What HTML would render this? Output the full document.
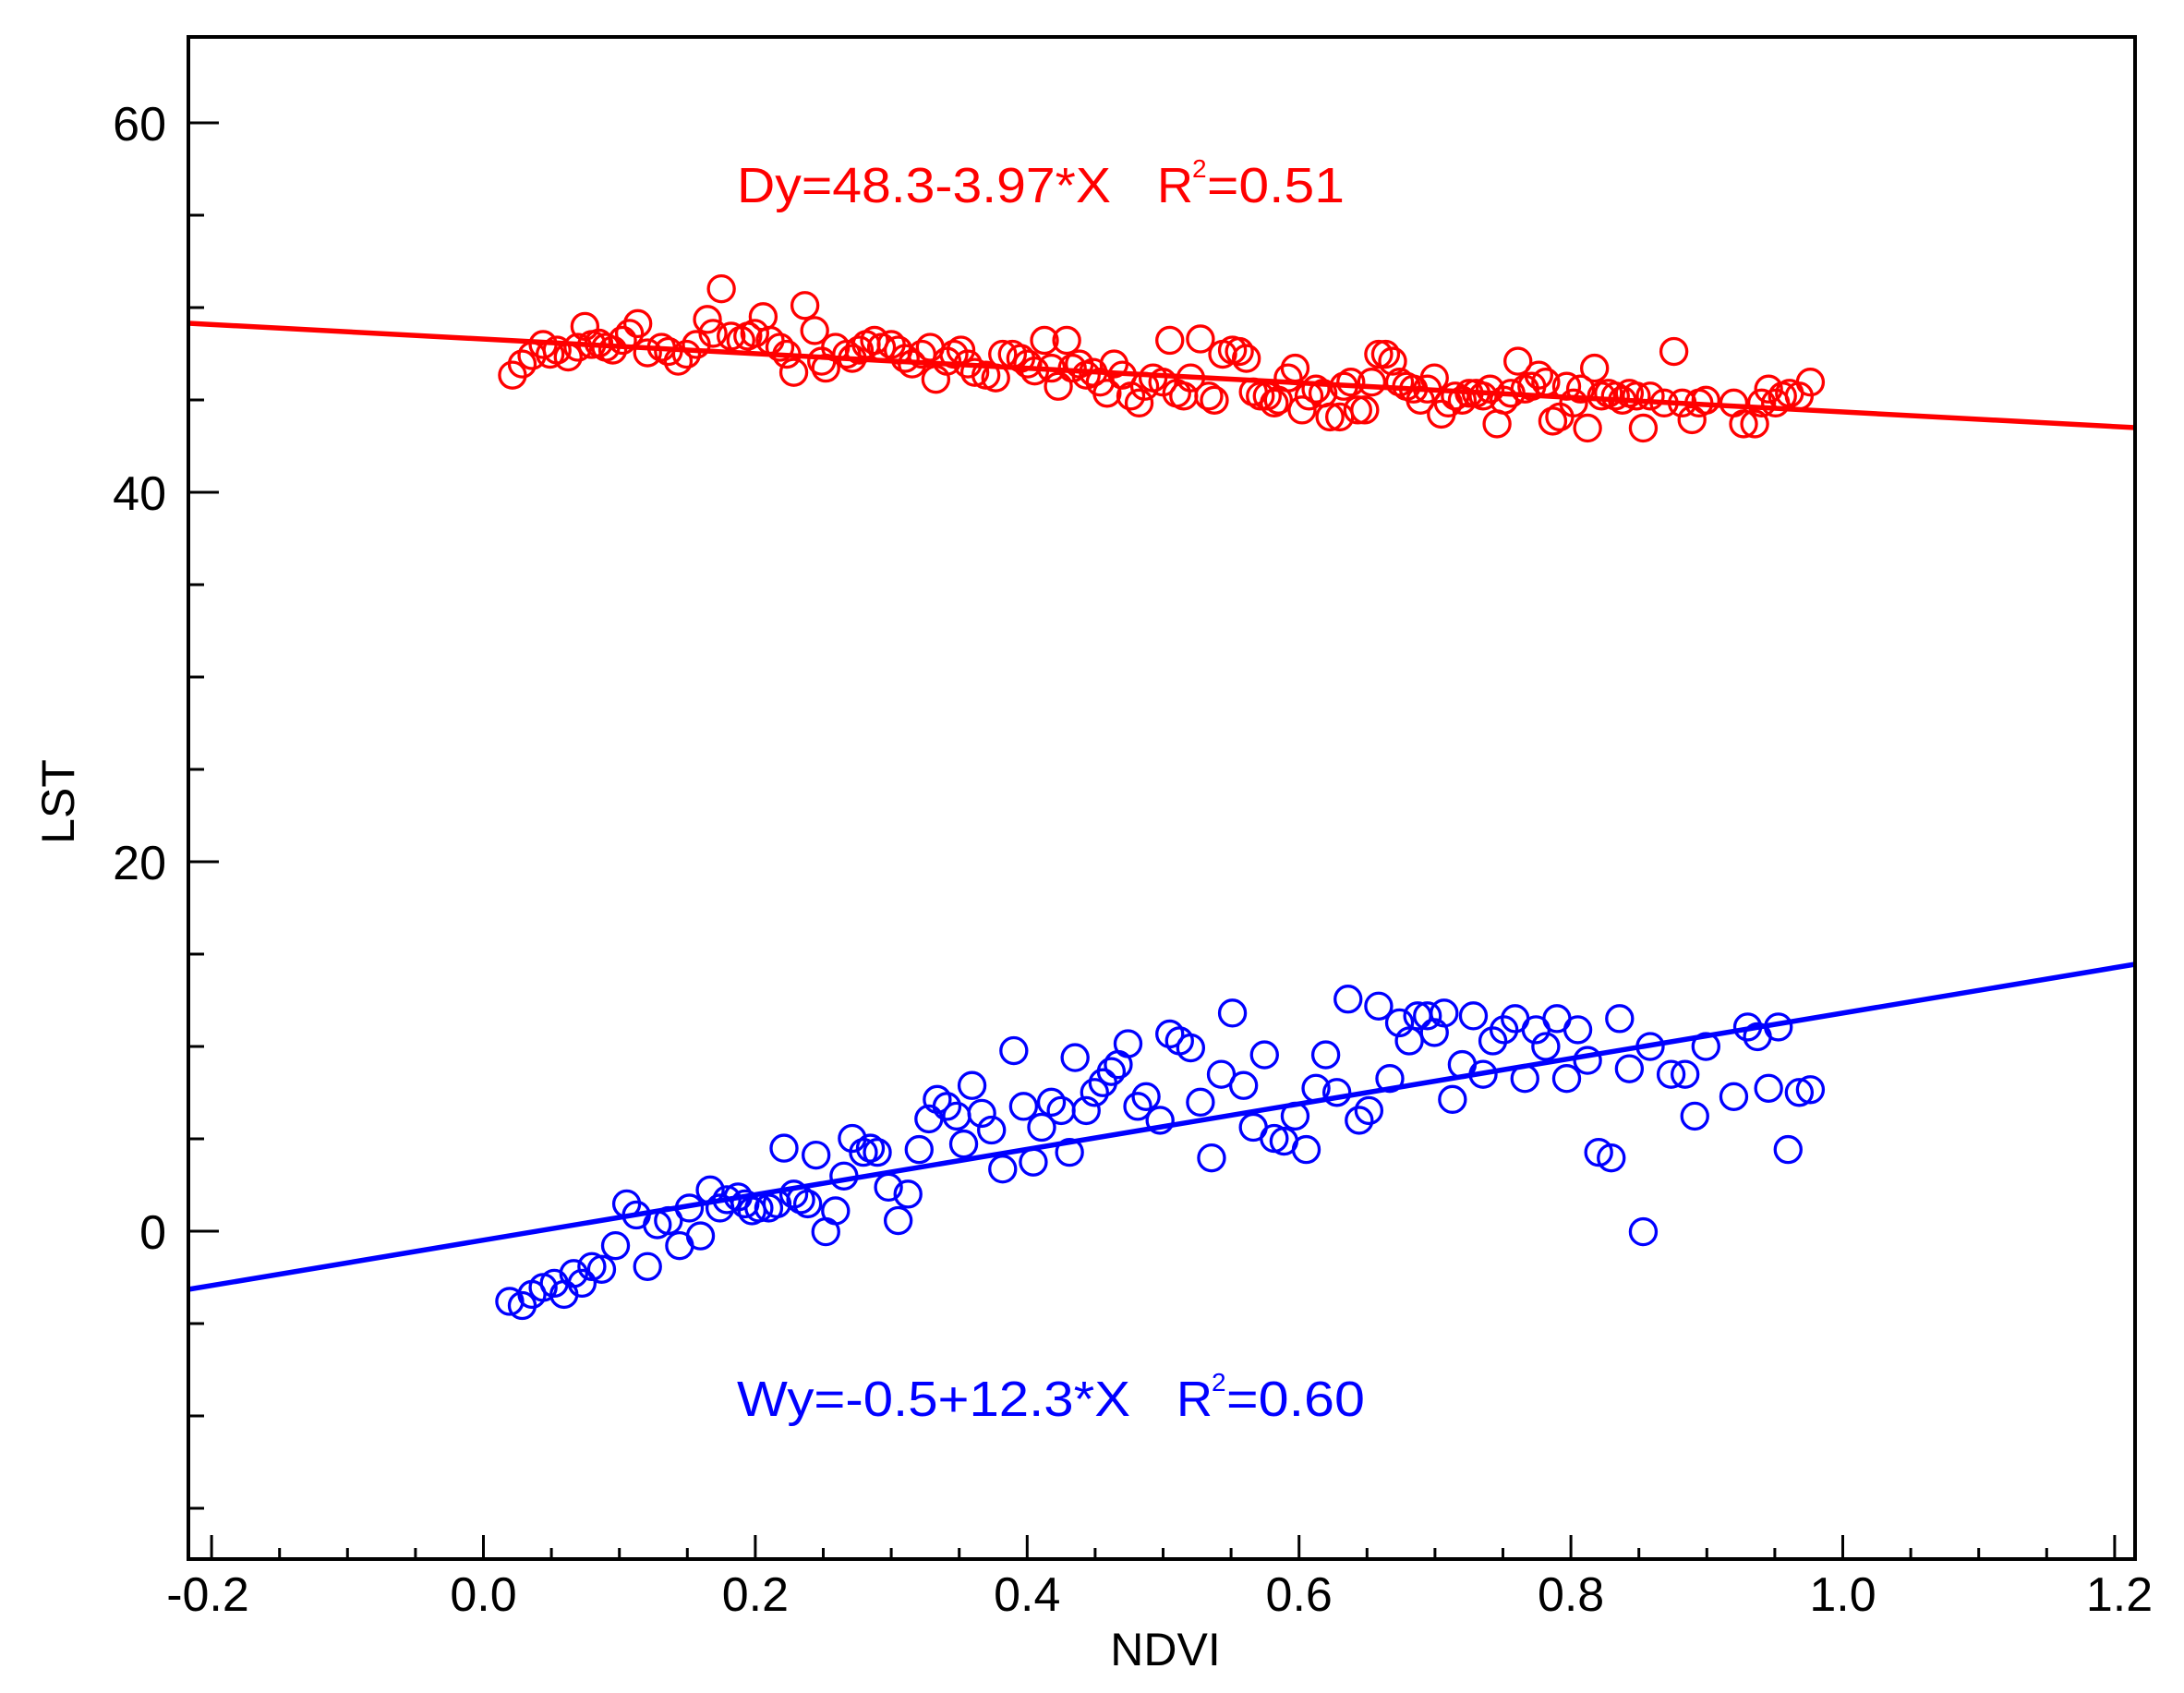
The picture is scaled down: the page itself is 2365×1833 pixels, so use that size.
<!DOCTYPE html>
<html><head><meta charset="utf-8"><style>
html,body{margin:0;padding:0;background:#fff;}
svg{display:block;}
text{font-family:"Liberation Sans",sans-serif;}
</style></head><body>
<svg width="2365" height="1833" viewBox="0 0 2365 1833" xmlns="http://www.w3.org/2000/svg">
<rect width="2365" height="1833" fill="#fff"/>
<line x1="204" y1="350" x2="2312" y2="463" stroke="#ff0000" stroke-width="5.5"/>
<line x1="204" y1="1396" x2="2312" y2="1044" stroke="#0000ff" stroke-width="5.5"/>
<g transform="translate(0,-1) scale(1.508)" fill="none" stroke-width="2.2">
<g stroke="#ff0000">
<circle cx="368" cy="270" r="9.3"/><circle cx="375" cy="262" r="9.3"/><circle cx="382" cy="256" r="9.3"/><circle cx="390" cy="248" r="9.3"/><circle cx="395" cy="255" r="9.3"/><circle cx="400" cy="252" r="9.3"/><circle cx="408" cy="257" r="9.3"/><circle cx="415" cy="250" r="9.3"/><circle cx="420" cy="235" r="9.3"/><circle cx="425" cy="248" r="9.3"/><circle cx="430" cy="247" r="9.3"/><circle cx="435" cy="250" r="9.3"/><circle cx="440" cy="252" r="9.3"/><circle cx="447" cy="245" r="9.3"/><circle cx="452" cy="240" r="9.3"/><circle cx="458" cy="233" r="9.3"/><circle cx="465" cy="254" r="9.3"/><circle cx="475" cy="250" r="9.3"/><circle cx="480" cy="253" r="9.3"/><circle cx="487" cy="260" r="9.3"/><circle cx="493" cy="255" r="9.3"/><circle cx="500" cy="248" r="9.3"/><circle cx="508" cy="230" r="9.3"/><circle cx="512" cy="240" r="9.3"/><circle cx="518" cy="208" r="9.3"/><circle cx="525" cy="242" r="9.3"/><circle cx="532" cy="245" r="9.3"/><circle cx="537" cy="242" r="9.3"/><circle cx="542" cy="240" r="9.3"/><circle cx="548" cy="228" r="9.3"/><circle cx="553" cy="245" r="9.3"/><circle cx="560" cy="250" r="9.3"/><circle cx="565" cy="255" r="9.3"/><circle cx="570" cy="268" r="9.3"/><circle cx="578" cy="220" r="9.3"/><circle cx="585" cy="238" r="9.3"/><circle cx="590" cy="260" r="9.3"/><circle cx="593" cy="265" r="9.3"/><circle cx="600" cy="250" r="9.3"/><circle cx="608" cy="255" r="9.3"/><circle cx="612" cy="258" r="9.3"/><circle cx="617" cy="252" r="9.3"/><circle cx="622" cy="248" r="9.3"/><circle cx="628" cy="245" r="9.3"/><circle cx="633" cy="250" r="9.3"/><circle cx="640" cy="248" r="9.3"/><circle cx="645" cy="252" r="9.3"/><circle cx="650" cy="258" r="9.3"/><circle cx="655" cy="262" r="9.3"/><circle cx="662" cy="255" r="9.3"/><circle cx="668" cy="250" r="9.3"/><circle cx="672" cy="273" r="9.3"/><circle cx="680" cy="260" r="9.3"/><circle cx="685" cy="255" r="9.3"/><circle cx="690" cy="252" r="9.3"/><circle cx="695" cy="262" r="9.3"/><circle cx="700" cy="268" r="9.3"/><circle cx="708" cy="270" r="9.3"/><circle cx="715" cy="272" r="9.3"/><circle cx="720" cy="255" r="9.3"/><circle cx="727" cy="255" r="9.3"/><circle cx="733" cy="258" r="9.3"/><circle cx="738" cy="262" r="9.3"/><circle cx="743" cy="267" r="9.3"/><circle cx="750" cy="245" r="9.3"/><circle cx="755" cy="265" r="9.3"/><circle cx="760" cy="278" r="9.3"/><circle cx="766" cy="245" r="9.3"/><circle cx="770" cy="265" r="9.3"/><circle cx="775" cy="262" r="9.3"/><circle cx="780" cy="270" r="9.3"/><circle cx="785" cy="268" r="9.3"/><circle cx="790" cy="275" r="9.3"/><circle cx="795" cy="283" r="9.3"/><circle cx="800" cy="262" r="9.3"/><circle cx="806" cy="270" r="9.3"/><circle cx="812" cy="285" r="9.3"/><circle cx="818" cy="290" r="9.3"/><circle cx="822" cy="278" r="9.3"/><circle cx="828" cy="272" r="9.3"/><circle cx="835" cy="275" r="9.3"/><circle cx="840" cy="245" r="9.3"/><circle cx="845" cy="283" r="9.3"/><circle cx="850" cy="285" r="9.3"/><circle cx="855" cy="272" r="9.3"/><circle cx="862" cy="244" r="9.3"/><circle cx="868" cy="285" r="9.3"/><circle cx="872" cy="288" r="9.3"/><circle cx="878" cy="255" r="9.3"/><circle cx="885" cy="252" r="9.3"/><circle cx="890" cy="253" r="9.3"/><circle cx="895" cy="258" r="9.3"/><circle cx="900" cy="282" r="9.3"/><circle cx="905" cy="285" r="9.3"/><circle cx="910" cy="285" r="9.3"/><circle cx="915" cy="290" r="9.3"/><circle cx="918" cy="288" r="9.3"/><circle cx="925" cy="272" r="9.3"/><circle cx="930" cy="265" r="9.3"/><circle cx="935" cy="295" r="9.3"/><circle cx="940" cy="285" r="9.3"/><circle cx="945" cy="280" r="9.3"/><circle cx="950" cy="283" r="9.3"/><circle cx="955" cy="300" r="9.3"/><circle cx="962" cy="300" r="9.3"/><circle cx="965" cy="278" r="9.3"/><circle cx="970" cy="275" r="9.3"/><circle cx="975" cy="295" r="9.3"/><circle cx="980" cy="295" r="9.3"/><circle cx="985" cy="275" r="9.3"/><circle cx="990" cy="255" r="9.3"/><circle cx="995" cy="255" r="9.3"/><circle cx="1000" cy="260" r="9.3"/><circle cx="1005" cy="275" r="9.3"/><circle cx="1010" cy="278" r="9.3"/><circle cx="1015" cy="280" r="9.3"/><circle cx="1020" cy="288" r="9.3"/><circle cx="1025" cy="280" r="9.3"/><circle cx="1030" cy="272" r="9.3"/><circle cx="1035" cy="298" r="9.3"/><circle cx="1040" cy="290" r="9.3"/><circle cx="1045" cy="285" r="9.3"/><circle cx="1050" cy="288" r="9.3"/><circle cx="1055" cy="283" r="9.3"/><circle cx="1060" cy="283" r="9.3"/><circle cx="1065" cy="285" r="9.3"/><circle cx="1070" cy="280" r="9.3"/><circle cx="1075" cy="305" r="9.3"/><circle cx="1080" cy="288" r="9.3"/><circle cx="1085" cy="283" r="9.3"/><circle cx="1090" cy="260" r="9.3"/><circle cx="1095" cy="280" r="9.3"/><circle cx="1100" cy="278" r="9.3"/><circle cx="1105" cy="270" r="9.3"/><circle cx="1110" cy="275" r="9.3"/><circle cx="1115" cy="303" r="9.3"/><circle cx="1120" cy="300" r="9.3"/><circle cx="1125" cy="278" r="9.3"/><circle cx="1130" cy="290" r="9.3"/><circle cx="1135" cy="280" r="9.3"/><circle cx="1140" cy="308" r="9.3"/><circle cx="1145" cy="265" r="9.3"/><circle cx="1150" cy="285" r="9.3"/><circle cx="1155" cy="283" r="9.3"/><circle cx="1160" cy="285" r="9.3"/><circle cx="1165" cy="288" r="9.3"/><circle cx="1170" cy="283" r="9.3"/><circle cx="1175" cy="285" r="9.3"/><circle cx="1180" cy="308" r="9.3"/><circle cx="1185" cy="285" r="9.3"/><circle cx="1195" cy="290" r="9.3"/><circle cx="1202" cy="253" r="9.3"/><circle cx="1208" cy="290" r="9.3"/><circle cx="1215" cy="302" r="9.3"/><circle cx="1220" cy="290" r="9.3"/><circle cx="1225" cy="288" r="9.3"/><circle cx="1245" cy="290" r="9.3"/><circle cx="1252" cy="305" r="9.3"/><circle cx="1260" cy="305" r="9.3"/><circle cx="1265" cy="290" r="9.3"/><circle cx="1270" cy="280" r="9.3"/><circle cx="1275" cy="290" r="9.3"/><circle cx="1280" cy="285" r="9.3"/><circle cx="1285" cy="283" r="9.3"/><circle cx="1292" cy="285" r="9.3"/><circle cx="1300" cy="275" r="9.3"/>
</g>
<g stroke="#0000ff">
<circle cx="366" cy="935" r="9.3"/><circle cx="375" cy="938" r="9.3"/><circle cx="382" cy="930" r="9.3"/><circle cx="390" cy="925" r="9.3"/><circle cx="398" cy="922" r="9.3"/><circle cx="405" cy="930" r="9.3"/><circle cx="412" cy="915" r="9.3"/><circle cx="418" cy="922" r="9.3"/><circle cx="425" cy="910" r="9.3"/><circle cx="432" cy="912" r="9.3"/><circle cx="442" cy="895" r="9.3"/><circle cx="450" cy="865" r="9.3"/><circle cx="457" cy="873" r="9.3"/><circle cx="465" cy="910" r="9.3"/><circle cx="472" cy="880" r="9.3"/><circle cx="480" cy="877" r="9.3"/><circle cx="488" cy="895" r="9.3"/><circle cx="495" cy="868" r="9.3"/><circle cx="503" cy="888" r="9.3"/><circle cx="510" cy="855" r="9.3"/><circle cx="517" cy="868" r="9.3"/><circle cx="522" cy="862" r="9.3"/><circle cx="530" cy="860" r="9.3"/><circle cx="535" cy="865" r="9.3"/><circle cx="540" cy="870" r="9.3"/><circle cx="545" cy="868" r="9.3"/><circle cx="552" cy="868" r="9.3"/><circle cx="558" cy="865" r="9.3"/><circle cx="563" cy="825" r="9.3"/><circle cx="570" cy="858" r="9.3"/><circle cx="575" cy="862" r="9.3"/><circle cx="580" cy="865" r="9.3"/><circle cx="586" cy="830" r="9.3"/><circle cx="593" cy="885" r="9.3"/><circle cx="600" cy="870" r="9.3"/><circle cx="606" cy="845" r="9.3"/><circle cx="612" cy="818" r="9.3"/><circle cx="620" cy="828" r="9.3"/><circle cx="625" cy="825" r="9.3"/><circle cx="630" cy="828" r="9.3"/><circle cx="638" cy="853" r="9.3"/><circle cx="645" cy="877" r="9.3"/><circle cx="652" cy="858" r="9.3"/><circle cx="660" cy="826" r="9.3"/><circle cx="667" cy="804" r="9.3"/><circle cx="673" cy="790" r="9.3"/><circle cx="680" cy="795" r="9.3"/><circle cx="687" cy="802" r="9.3"/><circle cx="692" cy="822" r="9.3"/><circle cx="698" cy="780" r="9.3"/><circle cx="705" cy="800" r="9.3"/><circle cx="712" cy="812" r="9.3"/><circle cx="720" cy="840" r="9.3"/><circle cx="728" cy="755" r="9.3"/><circle cx="735" cy="795" r="9.3"/><circle cx="742" cy="835" r="9.3"/><circle cx="748" cy="810" r="9.3"/><circle cx="755" cy="792" r="9.3"/><circle cx="762" cy="798" r="9.3"/><circle cx="768" cy="828" r="9.3"/><circle cx="772" cy="760" r="9.3"/><circle cx="780" cy="798" r="9.3"/><circle cx="786" cy="785" r="9.3"/><circle cx="792" cy="778" r="9.3"/><circle cx="798" cy="770" r="9.3"/><circle cx="803" cy="765" r="9.3"/><circle cx="810" cy="750" r="9.3"/><circle cx="817" cy="795" r="9.3"/><circle cx="823" cy="788" r="9.3"/><circle cx="833" cy="805" r="9.3"/><circle cx="840" cy="743" r="9.3"/><circle cx="847" cy="748" r="9.3"/><circle cx="855" cy="753" r="9.3"/><circle cx="862" cy="792" r="9.3"/><circle cx="870" cy="832" r="9.3"/><circle cx="877" cy="772" r="9.3"/><circle cx="885" cy="728" r="9.3"/><circle cx="893" cy="780" r="9.3"/><circle cx="900" cy="810" r="9.3"/><circle cx="908" cy="758" r="9.3"/><circle cx="915" cy="818" r="9.3"/><circle cx="922" cy="820" r="9.3"/><circle cx="930" cy="802" r="9.3"/><circle cx="938" cy="826" r="9.3"/><circle cx="945" cy="782" r="9.3"/><circle cx="952" cy="758" r="9.3"/><circle cx="960" cy="785" r="9.3"/><circle cx="968" cy="718" r="9.3"/><circle cx="976" cy="805" r="9.3"/><circle cx="983" cy="798" r="9.3"/><circle cx="990" cy="723" r="9.3"/><circle cx="998" cy="775" r="9.3"/><circle cx="1005" cy="735" r="9.3"/><circle cx="1012" cy="748" r="9.3"/><circle cx="1018" cy="730" r="9.3"/><circle cx="1025" cy="730" r="9.3"/><circle cx="1030" cy="742" r="9.3"/><circle cx="1037" cy="728" r="9.3"/><circle cx="1043" cy="790" r="9.3"/><circle cx="1050" cy="765" r="9.3"/><circle cx="1058" cy="730" r="9.3"/><circle cx="1065" cy="772" r="9.3"/><circle cx="1072" cy="748" r="9.3"/><circle cx="1080" cy="740" r="9.3"/><circle cx="1088" cy="732" r="9.3"/><circle cx="1095" cy="775" r="9.3"/><circle cx="1103" cy="740" r="9.3"/><circle cx="1110" cy="752" r="9.3"/><circle cx="1118" cy="732" r="9.3"/><circle cx="1125" cy="775" r="9.3"/><circle cx="1133" cy="740" r="9.3"/><circle cx="1140" cy="762" r="9.3"/><circle cx="1148" cy="828" r="9.3"/><circle cx="1157" cy="832" r="9.3"/><circle cx="1163" cy="732" r="9.3"/><circle cx="1170" cy="768" r="9.3"/><circle cx="1180" cy="885" r="9.3"/><circle cx="1185" cy="752" r="9.3"/><circle cx="1200" cy="772" r="9.3"/><circle cx="1210" cy="772" r="9.3"/><circle cx="1217" cy="802" r="9.3"/><circle cx="1225" cy="752" r="9.3"/><circle cx="1245" cy="788" r="9.3"/><circle cx="1255" cy="738" r="9.3"/><circle cx="1262" cy="745" r="9.3"/><circle cx="1270" cy="782" r="9.3"/><circle cx="1277" cy="738" r="9.3"/><circle cx="1284" cy="826" r="9.3"/><circle cx="1292" cy="785" r="9.3"/><circle cx="1300" cy="783" r="9.3"/>
</g>
</g>
<rect x="204" y="40" width="2108" height="1648" fill="none" stroke="#000" stroke-width="4"/>
<g stroke="#000" stroke-width="3">
<line x1="204" y1="133" x2="237" y2="133"/><line x1="204" y1="233" x2="221" y2="233"/><line x1="204" y1="333" x2="221" y2="333"/><line x1="204" y1="433" x2="221" y2="433"/>
<line x1="204" y1="533" x2="237" y2="533"/><line x1="204" y1="633" x2="221" y2="633"/><line x1="204" y1="733" x2="221" y2="733"/><line x1="204" y1="833" x2="221" y2="833"/>
<line x1="204" y1="933" x2="237" y2="933"/><line x1="204" y1="1033" x2="221" y2="1033"/><line x1="204" y1="1133" x2="221" y2="1133"/><line x1="204" y1="1233" x2="221" y2="1233"/>
<line x1="204" y1="1333" x2="237" y2="1333"/><line x1="204" y1="1433" x2="221" y2="1433"/><line x1="204" y1="1533" x2="221" y2="1533"/><line x1="204" y1="1633" x2="221" y2="1633"/>
</g>
<g stroke="#000" stroke-width="3">
<line x1="229.1" y1="1688" x2="229.1" y2="1662"/><line x1="302.7" y1="1688" x2="302.7" y2="1676"/><line x1="376.3" y1="1688" x2="376.3" y2="1676"/><line x1="449.9" y1="1688" x2="449.9" y2="1676"/>
<line x1="523.5" y1="1688" x2="523.5" y2="1662"/><line x1="597.1" y1="1688" x2="597.1" y2="1676"/><line x1="670.7" y1="1688" x2="670.7" y2="1676"/><line x1="744.3" y1="1688" x2="744.3" y2="1676"/>
<line x1="817.9" y1="1688" x2="817.9" y2="1662"/><line x1="891.5" y1="1688" x2="891.5" y2="1676"/><line x1="965.1" y1="1688" x2="965.1" y2="1676"/><line x1="1038.7" y1="1688" x2="1038.7" y2="1676"/>
<line x1="1112.3" y1="1688" x2="1112.3" y2="1662"/><line x1="1185.9" y1="1688" x2="1185.9" y2="1676"/><line x1="1259.5" y1="1688" x2="1259.5" y2="1676"/><line x1="1333.1" y1="1688" x2="1333.1" y2="1676"/>
<line x1="1406.7" y1="1688" x2="1406.7" y2="1662"/><line x1="1480.3" y1="1688" x2="1480.3" y2="1676"/><line x1="1553.9" y1="1688" x2="1553.9" y2="1676"/><line x1="1627.5" y1="1688" x2="1627.5" y2="1676"/>
<line x1="1701.1" y1="1688" x2="1701.1" y2="1662"/><line x1="1774.7" y1="1688" x2="1774.7" y2="1676"/><line x1="1848.3" y1="1688" x2="1848.3" y2="1676"/><line x1="1921.9" y1="1688" x2="1921.9" y2="1676"/>
<line x1="1995.5" y1="1688" x2="1995.5" y2="1662"/><line x1="2069.1" y1="1688" x2="2069.1" y2="1676"/><line x1="2142.7" y1="1688" x2="2142.7" y2="1676"/><line x1="2216.3" y1="1688" x2="2216.3" y2="1676"/>
<line x1="2289.9" y1="1688" x2="2289.9" y2="1662"/>
</g>
<g font-size="52" text-anchor="end" fill="#000">
<text x="180" y="152">60</text><text x="180" y="552">40</text><text x="180" y="952">20</text><text x="180" y="1352">0</text>
</g>
<g font-size="52" text-anchor="middle" fill="#000">
<text x="225" y="1744">-0.2</text><text x="523.5" y="1744">0.0</text><text x="817.9" y="1744">0.2</text><text x="1112.3" y="1744">0.4</text>
<text x="1406.7" y="1744">0.6</text><text x="1701.1" y="1744">0.8</text><text x="1995.5" y="1744">1.0</text><text x="2295" y="1744">1.2</text>
</g>
<text x="1262" y="1803" font-size="50" text-anchor="middle" fill="#000">NDVI</text>
<text transform="translate(80,868) rotate(-90)" font-size="50" text-anchor="middle" fill="#000">LST</text>
<g font-size="54" fill="#ff0000">
<text x="798" y="219" textLength="405" lengthAdjust="spacingAndGlyphs">Dy=48.3-3.97*X</text>
<text x="1253" y="219">R</text><text x="1291" y="192" font-size="28">2</text>
<text x="1307" y="219" textLength="149" lengthAdjust="spacingAndGlyphs">=0.51</text>
</g>
<g font-size="54" fill="#0000ff">
<text x="798" y="1533" textLength="426" lengthAdjust="spacingAndGlyphs">Wy=-0.5+12.3*X</text>
<text x="1274" y="1533">R</text><text x="1312" y="1506" font-size="28">2</text>
<text x="1328" y="1533" textLength="150" lengthAdjust="spacingAndGlyphs">=0.60</text>
</g>
</svg>
</body></html>
